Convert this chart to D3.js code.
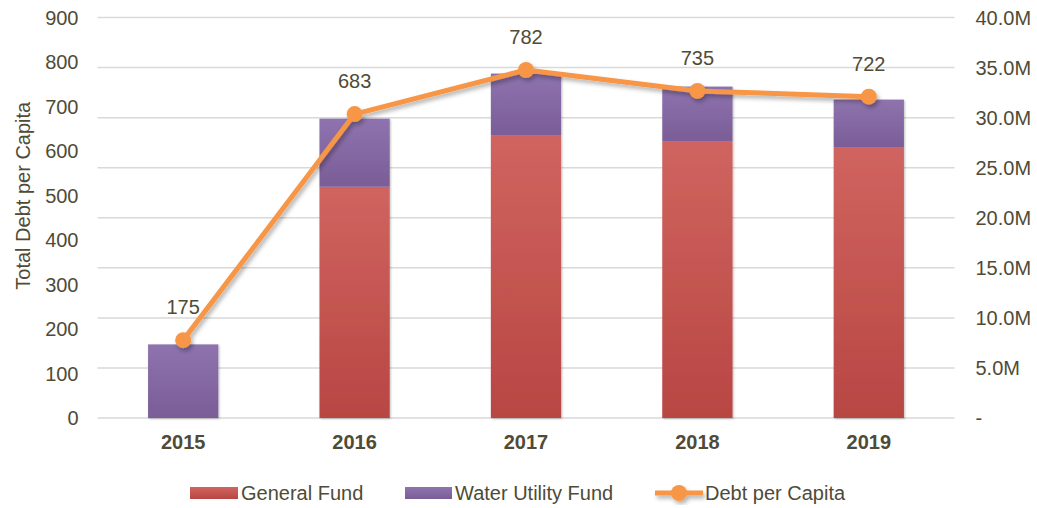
<!DOCTYPE html>
<html>
<head>
<meta charset="utf-8">
<script src="https://cdn.jsdelivr.net/npm/d3@7"></script>
<style>
  body { margin: 0; background: #fff; }
  text { font-family: "Liberation Sans", Arial, sans-serif; fill: #4f4b36; }
</style>
</head>
<body>
<svg id="chart" width="1037" height="508"></svg>
<script>
// data
var years = ["2015", "2016", "2017", "2018", "2019"];
var generalFund = [0, 23.1e6, 28.2e6, 27.6e6, 27.0e6];
var waterFund = [7.35e6, 6.8e6, 6.2e6, 5.5e6, 4.8e6];
var debtPerCapita = [175, 683, 782, 735, 722];
var leftTicks = [0, 100, 200, 300, 400, 500, 600, 700, 800, 900];
var rightTicks = [0, 5e6, 10e6, 15e6, 20e6, 25e6, 30e6, 35e6, 40e6];

var svg = d3.select("#chart"),
    margin = {top: 17.5, right: 82.5, bottom: 90, left: 97.5},
    width = +svg.attr("width") - margin.left - margin.right,
    height = +svg.attr("height") - margin.top - margin.bottom;

var defs = svg.append("defs");

// bar gradients
function grad(id, top, bottom) {
  var lg = defs.append("linearGradient").attr("id", id)
      .attr("x1", 0).attr("y1", 0).attr("x2", 0).attr("y2", 1);
  lg.append("stop").attr("offset", "0%").attr("stop-color", top);
  lg.append("stop").attr("offset", "100%").attr("stop-color", bottom);
}
grad("gRed", "#d0645f", "#b84643");
grad("gPurple", "#8e73ae", "#7a5d97");

var shadow = defs.append("filter").attr("id", "shadow")
    .attr("x", "-10%").attr("y", "-10%").attr("width", "130%").attr("height", "130%");
shadow.append("feDropShadow").attr("dx", 2).attr("dy", 3)
    .attr("stdDeviation", 2).attr("flood-color", "#000").attr("flood-opacity", 0.3);

var barShadow = defs.append("filter").attr("id", "barShadow")
    .attr("x", "-10%").attr("y", "-10%").attr("width", "130%").attr("height", "130%");
barShadow.append("feDropShadow").attr("dx", 1).attr("dy", 1)
    .attr("stdDeviation", 1).attr("flood-color", "#000").attr("flood-opacity", 0.25);

var g = svg.append("g").attr("transform", "translate(" + margin.left + "," + margin.top + ")");

var x = d3.scaleBand()
    .domain(years)
    .range([0, width])
    .paddingInner(0.59)
    .paddingOuter(0.295);

var yLeft = d3.scaleLinear().domain([0, 900]).range([height, 0]);
var yRight = d3.scaleLinear().domain([0, 40e6]).range([height, 0]);

// gridlines (from the right axis)
g.append("g")
  .selectAll("line")
  .data(rightTicks)
  .enter().append("line")
    .attr("x1", 0)
    .attr("x2", width)
    .attr("y1", function(d) { return yRight(d); })
    .attr("y2", function(d) { return yRight(d); })
    .attr("stroke", "#d9d9d9")
    .attr("stroke-width", 1.5);

// stacked bars
var rows = years.map(function(y, i) {
  return {year: y, general: generalFund[i], water: waterFund[i]};
});
var keys = ["general", "water"];
var fills = {general: "url(#gRed)", water: "url(#gPurple)"};

g.append("g")
  .attr("filter", "url(#barShadow)")
  .selectAll("g")
  .data(d3.stack().keys(keys)(rows))
  .enter().append("g")
    .attr("fill", function(d) { return fills[d.key]; })
  .selectAll("rect")
  .data(function(d) { return d.filter(function(p) { return p[1] > p[0]; }); })
  .enter().append("rect")
    .attr("x", function(d) { return x(d.data.year); })
    .attr("y", function(d) { return yRight(d[1]); })
    .attr("width", x.bandwidth())
    .attr("height", function(d) { return yRight(d[0]) - yRight(d[1]); });

// left axis
var la = g.append("g").attr("font-size", 20).attr("text-anchor", "end");
la.selectAll("text")
  .data(leftTicks)
  .enter().append("text")
    .attr("x", -19)
    .attr("y", function(d) { return yLeft(d); })
    .attr("dy", "0.35em")
    .text(function(d) { return d; });

// right axis
var ra = g.append("g").attr("font-size", 20).attr("text-anchor", "start");
ra.selectAll("text")
  .data(rightTicks)
  .enter().append("text")
    .attr("x", width + 21)
    .attr("y", function(d) { return yRight(d); })
    .attr("dy", "0.35em")
    .text(function(d) { return d === 0 ? "-" : (d / 1e6).toFixed(1) + "M"; });

// x axis labels
g.append("g")
  .selectAll("text")
  .data(years)
  .enter().append("text")
    .attr("x", function(d) { return x(d) + x.bandwidth() / 2; })
    .attr("y", height + 24)
    .attr("dy", "0.35em")
    .attr("text-anchor", "middle")
    .attr("font-size", 20)
    .attr("font-weight", "bold")
    .text(function(d) { return d; });

// axis title
g.append("text")
  .attr("transform", "translate(" + (-75) + "," + (height / 2 - 22) + ") rotate(-90)")
  .attr("text-anchor", "middle")
  .attr("dy", "0.35em")
  .attr("font-size", 20)
  .text("Total Debt per Capita");

// line
var cx = function(d, i) { return x(years[i]) + x.bandwidth() / 2; };
var line = d3.line()
  .x(function(d, i) { return cx(d, i); })
  .y(function(d) { return yLeft(d); });

var lg = g.append("g").attr("filter", "url(#shadow)");
lg.append("path")
  .datum(debtPerCapita)
  .attr("d", line)
  .attr("fill", "none")
  .attr("stroke", "#f79646")
  .attr("stroke-width", 5)
  .attr("stroke-linejoin", "round");

lg.selectAll("circle")
  .data(debtPerCapita)
  .enter().append("circle")
    .attr("cx", cx)
    .attr("cy", function(d) { return yLeft(d); })
    .attr("r", 8)
    .attr("fill", "#f79646");

// value labels
g.append("g")
  .selectAll("text")
  .data(debtPerCapita)
  .enter().append("text")
    .attr("x", cx)
    .attr("y", function(d) { return yLeft(d) - 33; })
    .attr("dy", "0.35em")
    .attr("text-anchor", "middle")
    .attr("font-size", 20)
    .text(function(d) { return d; });

// legend
var legend = svg.append("g").attr("font-size", 20);
var ly = 493;

legend.append("rect").attr("x", 190).attr("y", ly - 6).attr("width", 48).attr("height", 12)
  .attr("fill", "url(#gRed)");
legend.append("text").attr("x", 241).attr("y", ly).attr("dy", "0.35em").text("General Fund");

legend.append("rect").attr("x", 405).attr("y", ly - 6).attr("width", 47).attr("height", 12)
  .attr("fill", "url(#gPurple)");
legend.append("text").attr("x", 455).attr("y", ly).attr("dy", "0.35em").text("Water Utility Fund");

var ll = legend.append("g").attr("filter", "url(#shadow)");
ll.append("line").attr("x1", 655).attr("x2", 703).attr("y1", ly).attr("y2", ly)
  .attr("stroke", "#f79646").attr("stroke-width", 5);
ll.append("circle").attr("cx", 679).attr("cy", ly).attr("r", 8).attr("fill", "#f79646");
legend.append("text").attr("x", 705).attr("y", ly).attr("dy", "0.35em").text("Debt per Capita");
</script>
</body>
</html>
